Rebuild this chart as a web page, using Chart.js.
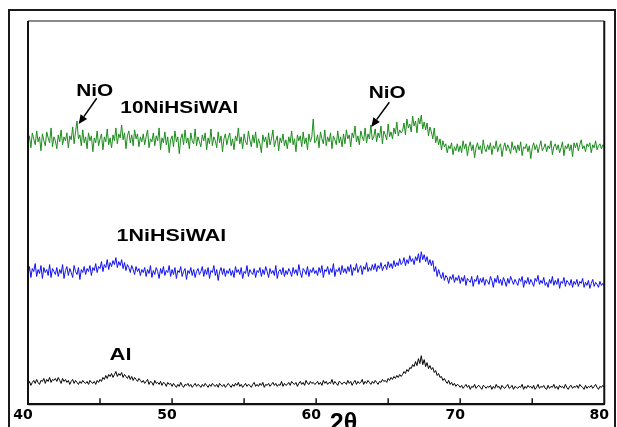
<!DOCTYPE html>
<html>
<head>
<meta charset="utf-8">
<script src="https://cdn.jsdelivr.net/npm/chart.js@4.4.1/dist/chart.umd.min.js"></script>
<style>
  html, body { margin: 0; padding: 0; background: #fff; overflow: hidden; }
  #wrap { position: relative; width: 617px; height: 427px; background: #fff; }
  #frame { position: absolute; left: 8px; top: 9px; width: 604px; height: 440px;
           border-left: 2px solid #1a1a1a; border-top: 2px solid #1a1a1a; border-right: 2px solid #1a1a1a; }
  canvas { position: absolute; left: 0; top: 0; }
</style>
</head>
<body>
<div id="wrap">
  <div id="frame"></div>
  <canvas id="c" width="617" height="427"></canvas>
</div>
<script>
// Sampling grid: 2θ from 40 to 80 in 0.1° steps (401 points)
const thetaStart = 40;
const thetaStep = 0.1;

// Intensities (arbitrary units); one row = 2°
const tenNiHSiWAl = [
  263,271,259,274,268,262,276,265,270,256,273,266,261,275,269,264,279,260,270,266,
  258,272,265,277,262,270,266,274,259,271,267,280,263,275,286,268,272,261,277,264,
  270,258,274,266,271,255,269,264,276,261,268,273,257,270,265,278,262,269,259,272,
  266,279,263,273,269,282,267,274,258,271,276,264,272,261,277,268,273,260,270,265,
  273,262,270,277,259,268,265,274,261,271,266,279,257,269,264,275,262,270,254,267,
  271,260,276,265,270,253,268,273,262,277,264,269,258,274,266,263,278,261,270,265,
  260,272,266,274,257,269,263,278,261,270,266,259,275,264,271,255,268,273,262,269,
  274,261,268,257,271,266,279,263,270,258,273,265,262,276,267,260,272,264,275,259,
  268,263,254,272,265,270,259,274,262,268,277,260,266,271,256,269,264,273,261,267,
  258,270,264,276,262,268,255,272,266,271,260,275,263,269,257,273,265,270,288,264,
  266,272,259,275,268,263,277,261,270,265,274,258,271,267,262,276,264,270,260,273,
  263,277,268,272,260,274,269,281,265,271,262,276,270,266,279,264,273,268,282,267,
  270,278,265,274,269,281,263,276,272,267,283,270,275,268,279,273,285,271,277,274,
  276,284,272,288,279,283,275,291,281,286,274,289,283,292,278,285,277,284,271,280,
  275,268,279,264,271,262,268,257,266,260,263,254,261,258,264,252,260,256,263,255,
  261,254,266,258,263,251,260,265,256,262,249,259,264,257,261,253,267,258,255,262,
  257,264,252,261,258,266,255,260,263,250,259,264,256,262,258,253,265,257,261,254,
  262,256,265,251,260,258,263,255,261,248,259,264,257,262,254,260,266,256,259,263,
  255,261,258,266,252,260,263,257,262,254,259,265,251,261,258,263,256,262,250,264,
  259,264,256,262,267,258,261,255,263,260,264,254,262,259,266,257,261,263,258,262,
  259
];
const oneNiHSiWAl = [
  131,139,128,137,134,142,129,136,132,140,127,138,133,136,130,141,128,137,134,131,
  138,129,136,132,141,127,135,139,130,137,133,128,140,134,131,138,126,136,133,139,
  131,137,134,140,130,138,135,142,133,139,137,144,134,141,138,146,136,143,139,145,
  141,148,138,144,140,146,137,143,135,141,138,133,140,136,131,139,134,137,130,136,
  133,138,129,136,132,140,128,135,131,138,134,127,137,132,139,130,135,133,140,129,
  136,131,138,127,135,133,139,129,134,137,126,135,132,138,130,136,128,134,137,131,
  134,139,129,136,131,138,127,135,133,140,130,136,125,134,138,131,137,129,135,132,
  137,130,135,128,139,133,136,131,138,127,134,132,140,129,136,133,131,137,128,135,
  133,138,129,136,131,139,134,128,137,132,135,130,140,127,134,136,131,138,129,135,
  131,137,134,129,138,132,136,130,141,133,128,137,135,131,139,129,136,133,138,132,
  135,130,138,133,140,128,136,134,139,131,137,133,142,129,136,134,138,131,140,133,
  137,132,139,134,141,130,138,135,142,133,137,140,131,139,136,143,134,138,135,141,
  136,142,134,140,137,143,135,139,141,136,144,138,142,137,145,139,143,140,147,141,
  143,148,140,146,142,150,144,147,141,149,145,152,143,154,146,151,144,149,141,146,
  140,145,134,139,129,136,131,127,133,125,130,128,122,129,126,131,123,128,125,130,
  122,128,124,130,120,127,125,123,129,119,126,124,130,121,127,123,128,120,126,124,
  121,129,125,118,127,123,130,122,126,120,128,124,119,127,122,129,125,121,126,123,
  120,127,124,129,118,125,122,128,121,126,123,119,127,124,130,121,125,122,128,120,
  123,118,126,122,129,120,125,121,127,117,124,122,128,119,125,123,120,126,118,124,
  121,126,119,124,122,127,118,123,120,125,117,122,126,119,123,121,118,124,120,122,
  119
];
const alSupport = [
  20,23,19,22,24,21,25,22,20,24,23,26,21,25,23,27,22,25,24,26,
  23,27,24,21,26,23,25,22,24,20,23,25,21,24,22,20,23,21,24,22,
  21,23,20,24,22,21,23,20,24,22,25,23,27,25,29,26,30,28,31,27,
  30,33,28,31,29,32,27,30,28,26,29,25,28,24,27,25,23,26,24,22,
  24,21,23,25,20,23,22,19,24,21,22,20,23,19,22,21,18,22,20,21,
  18,21,19,17,20,18,22,19,17,20,19,21,18,20,17,19,21,18,20,19,
  17,20,18,21,19,17,20,18,21,19,18,20,17,21,19,18,20,17,19,21,
  19,17,20,18,21,19,22,18,20,17,19,21,18,20,19,17,20,22,18,20,
  18,21,19,22,17,20,19,21,18,20,22,19,21,18,20,19,23,18,21,19,
  20,22,19,23,21,20,22,18,21,23,20,22,19,24,21,20,23,21,22,20,
  21,23,20,22,19,24,21,23,20,22,21,25,20,23,21,19,23,22,20,22,
  22,20,24,21,23,19,22,24,20,23,21,22,25,20,23,21,24,22,20,23,
  21,24,22,20,23,22,25,23,24,22,26,24,27,25,28,26,29,27,30,28,
  30,33,31,35,33,37,36,40,38,43,39,46,41,49,40,45,38,42,36,39,
  35,37,32,34,29,31,27,28,24,26,23,21,24,20,22,19,21,18,20,19,
  17,19,16,18,20,17,19,15,18,17,20,16,18,19,17,15,19,18,16,18,
  17,19,15,18,16,20,17,18,15,19,17,16,18,20,16,17,19,15,18,17,
  16,18,17,20,15,18,16,19,17,18,16,19,15,17,20,16,18,17,19,16,
  15,19,16,18,17,20,16,18,15,19,17,18,16,20,17,15,18,19,16,18,
  17,19,16,20,18,17,15,19,16,18,17,19,16,18,20,17,15,18,17,19,
  17
];

const xTickLabels = [40, 50, 60, 70, 80];
const seriesNames = ['10NiHSiWAl', '1NiHSiWAl', 'Al'];
const seriesColors = ['#1b8c1b', '#1010f0', '#000000'];

// Annotations placed in data coordinates
const labels = [
  { text: 'NiO', x: 44.63, y: 316, size: 16 },
  { text: '10NiHSiWAl', x: 50.5, y: 299, size: 16 },
  { text: 'NiO', x: 64.94, y: 314, size: 16 },
  { text: '1NiHSiWAl', x: 49.95, y: 169, size: 16.5 },
  { text: 'Al', x: 46.42, y: 49, size: 17 }
];
const arrows = [
  { x1: 44.77, y1: 309, x2: 43.52, y2: 283 },
  { x1: 65.08, y1: 305, x2: 63.83, y2: 280 }
];

function toPoints(arr) {
  return arr.map((v, i) => ({ x: +(thetaStart + i * thetaStep).toFixed(2), y: v }));
}

const seriesData = [tenNiHSiWAl, oneNiHSiWAl, alSupport];

const decor = {
  id: 'decor',
  afterDraw(chart) {
    const ctx = chart.ctx;
    const xs = chart.scales.x, ys = chart.scales.y;
    const a = chart.chartArea;
    ctx.save();
    // plot frame
    ctx.lineWidth = 2;
    ctx.strokeStyle = '#8a8a8a';
    ctx.beginPath(); ctx.moveTo(a.left, a.top); ctx.lineTo(a.right, a.top); ctx.stroke();
    ctx.strokeStyle = '#111';
    ctx.beginPath();
    ctx.moveTo(a.left, a.top); ctx.lineTo(a.left, a.bottom);
    ctx.moveTo(a.right, a.top); ctx.lineTo(a.right, a.bottom);
    ctx.moveTo(a.left, a.bottom); ctx.lineTo(a.right, a.bottom);
    ctx.stroke();
    // inward ticks
    ctx.lineWidth = 1.5;
    for (let t = 45; t < 80; t += 5) {
      const px = xs.getPixelForValue(t);
      ctx.beginPath(); ctx.moveTo(px, a.bottom); ctx.lineTo(px, a.bottom - 6); ctx.stroke();
    }
    // text labels
    ctx.fillStyle = '#000';
    labels.forEach(l => {
      ctx.save();
      ctx.translate(xs.getPixelForValue(l.x), ys.getPixelForValue(l.y));
      ctx.scale(1.3, 1);
      ctx.font = 'bold ' + l.size + 'px "Liberation Sans", Arial, sans-serif';
      ctx.textAlign = 'center';
      ctx.textBaseline = 'middle';
      ctx.fillText(l.text, 0, 0);
      ctx.restore();
    });
    // arrows
    ctx.strokeStyle = '#000';
    ctx.lineWidth = 1.5;
    arrows.forEach(ar => {
      const x1 = xs.getPixelForValue(ar.x1), y1 = ys.getPixelForValue(ar.y1);
      const x2 = xs.getPixelForValue(ar.x2), y2 = ys.getPixelForValue(ar.y2);
      const ang = Math.atan2(y2 - y1, x2 - x1);
      const hl = 9, hw = 4;
      const bx = x2 - hl * Math.cos(ang), by = y2 - hl * Math.sin(ang);
      ctx.beginPath(); ctx.moveTo(x1, y1); ctx.lineTo(bx, by); ctx.stroke();
      ctx.beginPath();
      ctx.moveTo(x2, y2);
      ctx.lineTo(bx + hw * Math.sin(ang), by - hw * Math.cos(ang));
      ctx.lineTo(bx - hw * Math.sin(ang), by + hw * Math.cos(ang));
      ctx.closePath(); ctx.fill();
    });
    // axis title 2θ (cut by the bottom edge as in the reference)
    ctx.font = 'bold 25px "Liberation Sans", Arial, sans-serif';
    ctx.textAlign = 'center';
    ctx.textBaseline = 'alphabetic';
    ctx.fillText('2θ', xs.getPixelForValue(61.9), a.bottom + 27);
    ctx.restore();
  }
};

new Chart(document.getElementById('c'), {
  type: 'line',
  data: {
    datasets: seriesData.map((d, i) => ({
      label: seriesNames[i],
      data: toPoints(d),
      borderColor: seriesColors[i],
      borderWidth: 1,
      pointRadius: 0,
      tension: 0,
      fill: false
    }))
  },
  options: {
    responsive: false,
    animation: false,
    devicePixelRatio: 1,
    layout: { padding: { left: 28, top: 21, right: 10, bottom: 0 } },
    plugins: { legend: { display: false }, tooltip: { enabled: false } },
    scales: {
      x: {
        type: 'linear', min: 40, max: 80,
        grid: { display: false, drawTicks: false },
        border: { display: true, color: '#111', width: 2 },
        ticks: {
          stepSize: 10,
          autoSkip: false,
          maxRotation: 0,
          padding: 3,
          labelOffset: -5,
          color: '#000',
          font: { family: '"DejaVu Sans", sans-serif', weight: 'bold', size: 14 },
          callback: v => (xTickLabels.includes(v) ? String(v) : '')
        }
      },
      y: { display: false, min: 0, max: 387 }
    }
  },
  plugins: [decor]
});
</script>
</body>
</html>
